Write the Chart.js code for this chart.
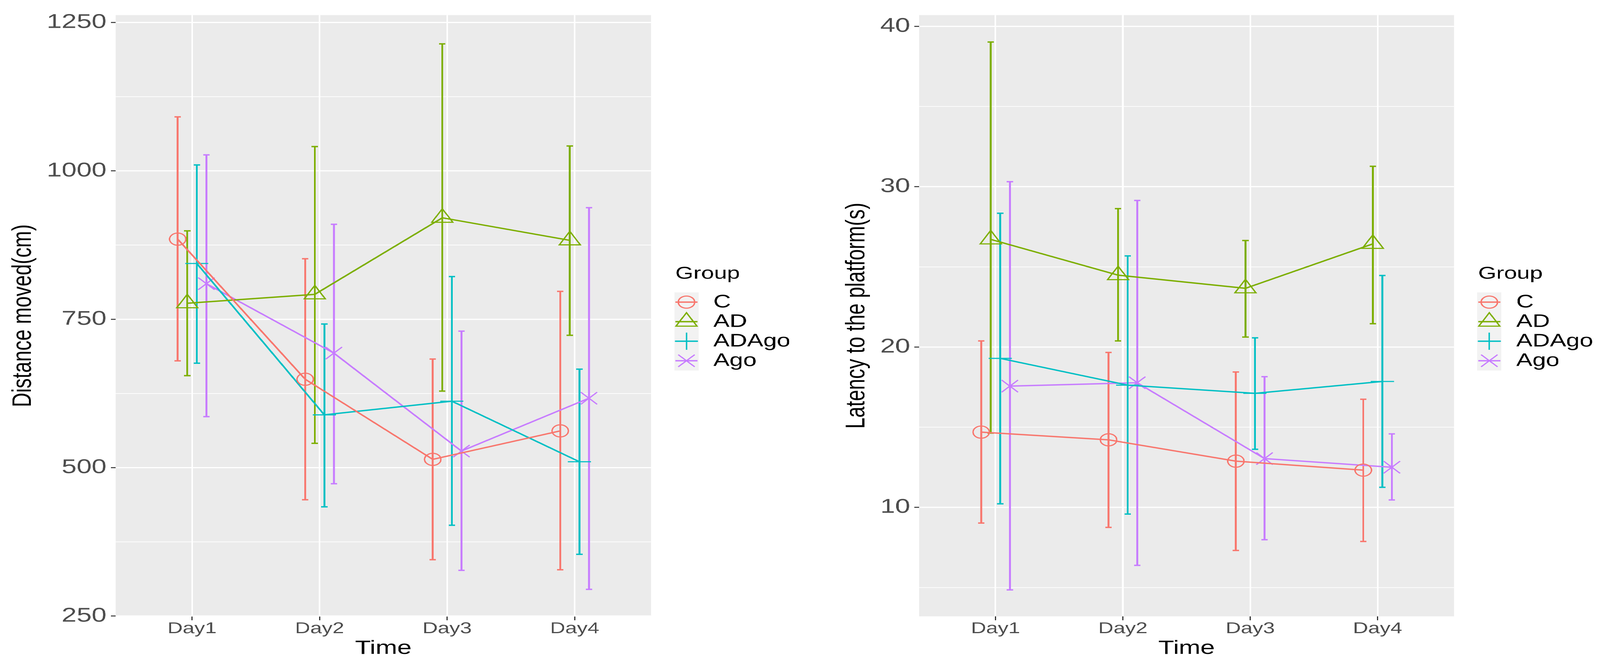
<!DOCTYPE html>
<html>
<head>
<meta charset="utf-8">
<title>Distance and latency by group</title>
<script src="https://cdn.jsdelivr.net/npm/chart.js@4.4.1/dist/chart.umd.min.js"></script>
<style>
html, body { margin: 0; padding: 0; background: #ffffff; overflow: hidden; }
/* the reference is stretched sideways, so draw narrow and widen the whole stage */
#stage { position: absolute; left: 0; top: 0; width: 3033px; height: 1704px;
         transform: scaleX(1.36993); transform-origin: 0 0; }
.box { position: absolute; top: 0; height: 1704px; }
#leftBox { left: 0; width: 1560px; }
#rightBox { left: 1560px; width: 1473px; }
#distChart { width: 1560px; height: 1704px; }
#latChart { width: 1473px; height: 1704px; }
</style>
</head>
<body>
<div id="stage">
  <div class="box" id="leftBox"><canvas id="distChart" width="1560" height="1704"></canvas></div>
  <div class="box" id="rightBox"><canvas id="latChart" width="1473" height="1704"></canvas></div>
</div>
<script>
var dayLabels = ['Day1', 'Day2', 'Day3', 'Day4'];
var groupNames = ['C', 'AD', 'ADAgo', 'Ago'];

// Distance moved (cm): mean, bottom and top of error bar
var distC = [885, 649, 514, 562];
var distCLo = [680, 446, 345, 328];
var distCHi = [1091, 852, 683, 797];
var distAD = [777, 792, 921, 883];
var distADLo = [655, 541, 629, 723];
var distADHi = [899, 1041, 1214, 1042];
var distADAgo = [844, 589, 612, 510];
var distADAgoLo = [676, 434, 403, 354];
var distADAgoHi = [1010, 742, 822, 666];
var distAgo = [810, 693, 528, 617];
var distAgoLo = [586, 473, 327, 295];
var distAgoHi = [1027, 910, 730, 938];

// Latency to the platform (s)
var latC = [14.69, 14.21, 12.88, 12.32];
var latCLo = [9.02, 8.75, 7.31, 7.87];
var latCHi = [20.38, 19.66, 18.44, 16.74];
var latAD = [26.71, 24.48, 23.66, 26.43];
var latADLo = [14.63, 20.38, 20.62, 21.45];
var latADHi = [39.02, 28.63, 26.64, 31.27];
var latADAgo = [19.29, 17.62, 17.11, 17.85];
var latADAgoLo = [10.22, 9.58, 13.62, 11.25];
var latADAgoHi = [28.34, 25.68, 20.57, 24.46];
var latAgo = [17.56, 17.77, 13.04, 12.50];
var latAgoLo = [4.85, 6.38, 7.98, 10.46];
var latAgoHi = [30.31, 29.14, 18.15, 14.58];

var distTicks = [250, 375, 500, 625, 750, 875, 1000, 1125, 1250];
var distTickLabels = ['250', '', '500', '', '750', '', '1000', '', '1250'];
var latTicks = [5, 10, 15, 20, 25, 30, 35, 40];
var latTickLabels = ['', '10', '', '20', '', '30', '', '40'];

var GROUP_COLORS = ['#F8766D', '#7CAE00', '#00BFC4', '#C77CFF'];
var GROUP_SHAPES = ['circle', 'triangle', 'cross', 'crossRot'];
var GROUP_RADII = [15.5, 23, 22, 22];
var DODGE = [-0.1125, -0.0375, 0.0375, 0.1125];
var CAP_HALF = 0.025;
var FONT = "'Liberation Sans', Arial, Helvetica, sans-serif";

// fit the 3033x1704 drawing to whatever viewport we really get
var stage = document.getElementById('stage');
var vw = window.innerWidth || 4155, vh = window.innerHeight || 1704;
stage.style.transform = 'scale(' + (vw / 3033) + ',' + (vh / 1704) + ')';

function buildSets(means, los, his) {
    return groupNames.map(function (name, g) {
        return {
            label: name,
            data: means[g].map(function (v, i) { return { x: i + 1 + DODGE[g], y: v }; }),
            lo: los[g],
            hi: his[g],
            borderColor: GROUP_COLORS[g],
            borderWidth: 3.5,
            tension: 0,
            pointStyle: GROUP_SHAPES[g],
            pointRadius: GROUP_RADII[g],
            pointBorderWidth: 2.8,
            pointBorderColor: GROUP_COLORS[g],
            pointBackgroundColor: 'rgba(0,0,0,0)'
        };
    });
}

var panelPlugin = {
    id: 'panelBg',
    beforeDraw: function (chart) {
        var a = chart.chartArea, ctx = chart.ctx;
        ctx.save();
        ctx.fillStyle = '#EBEBEB';
        ctx.fillRect(a.left, a.top, a.right - a.left, a.bottom - a.top);
        ctx.restore();
    }
};

var errorBarPlugin = {
    id: 'errorBars',
    beforeDatasetsDraw: function (chart) {
        var ctx = chart.ctx, xs = chart.scales.x, ys = chart.scales.y;
        ctx.save();
        ctx.lineWidth = 3.5;
        chart.data.datasets.forEach(function (ds) {
            ctx.strokeStyle = ds.borderColor;
            ds.data.forEach(function (pt, i) {
                var px = xs.getPixelForValue(pt.x);
                var l = xs.getPixelForValue(pt.x - CAP_HALF);
                var r = xs.getPixelForValue(pt.x + CAP_HALF);
                var top = ys.getPixelForValue(ds.hi[i]);
                var bot = ys.getPixelForValue(ds.lo[i]);
                ctx.beginPath();
                ctx.moveTo(px, top); ctx.lineTo(px, bot);
                ctx.moveTo(l, top); ctx.lineTo(r, top);
                ctx.moveTo(l, bot); ctx.lineTo(r, bot);
                ctx.stroke();
            });
        });
        ctx.restore();
    }
};

function drawShape(ctx, style, x, y, r) {
    ctx.beginPath();
    if (style === 'circle') {
        ctx.arc(x, y, r, 0, Math.PI * 2);
    } else if (style === 'triangle') {
        for (var k = 0; k < 3; k++) {
            var ang = k * 2 * Math.PI / 3;
            var px = x + Math.sin(ang) * r, py = y - Math.cos(ang) * r;
            if (k === 0) ctx.moveTo(px, py); else ctx.lineTo(px, py);
        }
        ctx.closePath();
    } else if (style === 'cross') {
        ctx.moveTo(x - r, y); ctx.lineTo(x + r, y);
        ctx.moveTo(x, y - r); ctx.lineTo(x, y + r);
    } else {
        var d = r * Math.SQRT1_2;
        ctx.moveTo(x - d, y - d); ctx.lineTo(x + d, y + d);
        ctx.moveTo(x - d, y + d); ctx.lineTo(x + d, y - d);
    }
    ctx.stroke();
}

// ggplot-style legend to the right of the panel
var groupLegendPlugin = {
    id: 'groupLegend',
    afterDraw: function (chart) {
        var ctx = chart.ctx, right = chart.chartArea.right;
        var keyX = right + 44, keyW = 46, keyTop = 748, keyH = 50;
        ctx.save();
        ctx.fillStyle = '#000000';
        ctx.font = '44px ' + FONT;
        ctx.textAlign = 'left';
        ctx.textBaseline = 'alphabetic';
        ctx.fillText('Group', right + 46, 713);
        ctx.fillStyle = '#F2F2F2';
        ctx.fillRect(keyX, keyTop, keyW, keyH * groupNames.length);
        chart.data.datasets.forEach(function (ds, g) {
            var cy = keyTop + keyH * g + keyH / 2;
            var cx = keyX + keyW / 2;
            ctx.strokeStyle = ds.borderColor;
            ctx.lineWidth = 3.5;
            ctx.beginPath();
            ctx.moveTo(keyX + 2, cy); ctx.lineTo(keyX + keyW - 2, cy);
            ctx.stroke();
            ctx.lineWidth = 2.8;
            drawShape(ctx, ds.pointStyle, cx, cy, ds.pointRadius);
            ctx.fillStyle = '#000000';
            ctx.font = '46px ' + FONT;
            ctx.textBaseline = 'middle';
            ctx.fillText(ds.label, right + 118, cy + 1);
        });
        ctx.restore();
    }
};

function makeChart(id, sets, yCfg) {
    return new Chart(id, {
        type: 'line',
        data: { datasets: sets },
        plugins: [panelPlugin, errorBarPlugin, groupLegendPlugin],
        options: {
            responsive: false,
            devicePixelRatio: 2,
            animation: false,
            events: [],
            layout: { padding: { top: 37, left: 0, right: yCfg.padRight, bottom: 0 } },
            plugins: { legend: { display: false }, tooltip: { enabled: false } },
            scales: {
                x: {
                    type: 'linear',
                    min: 0.4,
                    max: 4.6,
                    afterBuildTicks: function (axis) {
                        axis.ticks = dayLabels.map(function (d, i) { return { value: i + 1 }; });
                    },
                    afterFit: function (axis) { axis.height = 127; },
                    border: { display: false },
                    grid: { color: '#FFFFFF', lineWidth: 3, tickColor: '#333333', tickWidth: 2, tickLength: 10 },
                    ticks: {
                        autoSkip: false,
                        maxRotation: 0,
                        padding: 2,
                        color: '#4D4D4D',
                        font: { family: FONT, size: 40, lineHeight: 1 },
                        callback: function (v, i) { return dayLabels[i]; }
                    },
                    title: {
                        display: true,
                        text: 'Time',
                        color: '#000000',
                        font: { family: FONT, size: 49, lineHeight: 1 },
                        padding: { top: 0, bottom: 20 }
                    }
                },
                y: {
                    min: yCfg.min,
                    max: yCfg.max,
                    afterBuildTicks: function (axis) {
                        axis.ticks = yCfg.ticks.map(function (v) { return { value: v }; });
                    },
                    afterFit: function (axis) { axis.width = yCfg.axisWidth; },
                    border: { display: false },
                    grid: {
                        color: '#FFFFFF',
                        lineWidth: function (c) { return yCfg.labels[c.index] ? 3 : 1.8; },
                        tickColor: function (c) { return yCfg.labels[c.index] ? '#333333' : 'rgba(0,0,0,0)'; },
                        tickWidth: 2.5,
                        tickLength: 9
                    },
                    ticks: {
                        autoSkip: false,
                        padding: 8,
                        color: '#4D4D4D',
                        font: { family: FONT, size: 51, lineHeight: 1.2 },
                        callback: function (v, i) { return yCfg.labels[i]; }
                    },
                    title: {
                        display: true,
                        text: yCfg.title,
                        color: '#000000',
                        font: { family: FONT, size: 51, lineHeight: 1 },
                        padding: { top: yCfg.titlePad, bottom: 0 }
                    }
                }
            }
        }
    });
}

makeChart('distChart',
    buildSets([distC, distAD, distADAgo, distAgo],
              [distCLo, distADLo, distADAgoLo, distAgoLo],
              [distCHi, distADHi, distADAgoHi, distAgoHi]),
    { min: 249.5, max: 1262.5, ticks: distTicks, labels: distTickLabels,
      title: 'Distance moved(cm)', axisWidth: 219, titlePad: 19, padRight: 325.7 });

makeChart('latChart',
    buildSets([latC, latAD, latADAgo, latAgo],
              [latCLo, latADLo, latADAgoLo, latAgoLo],
              [latCHi, latADHi, latADAgoHi, latAgoHi]),
    { min: 3.2, max: 40.7, ticks: latTicks, labels: latTickLabels,
      title: 'Latency to the platform(s)', axisWidth: 182.3, titlePad: 39, padRight: 276.8 });
</script>
</body>
</html>
